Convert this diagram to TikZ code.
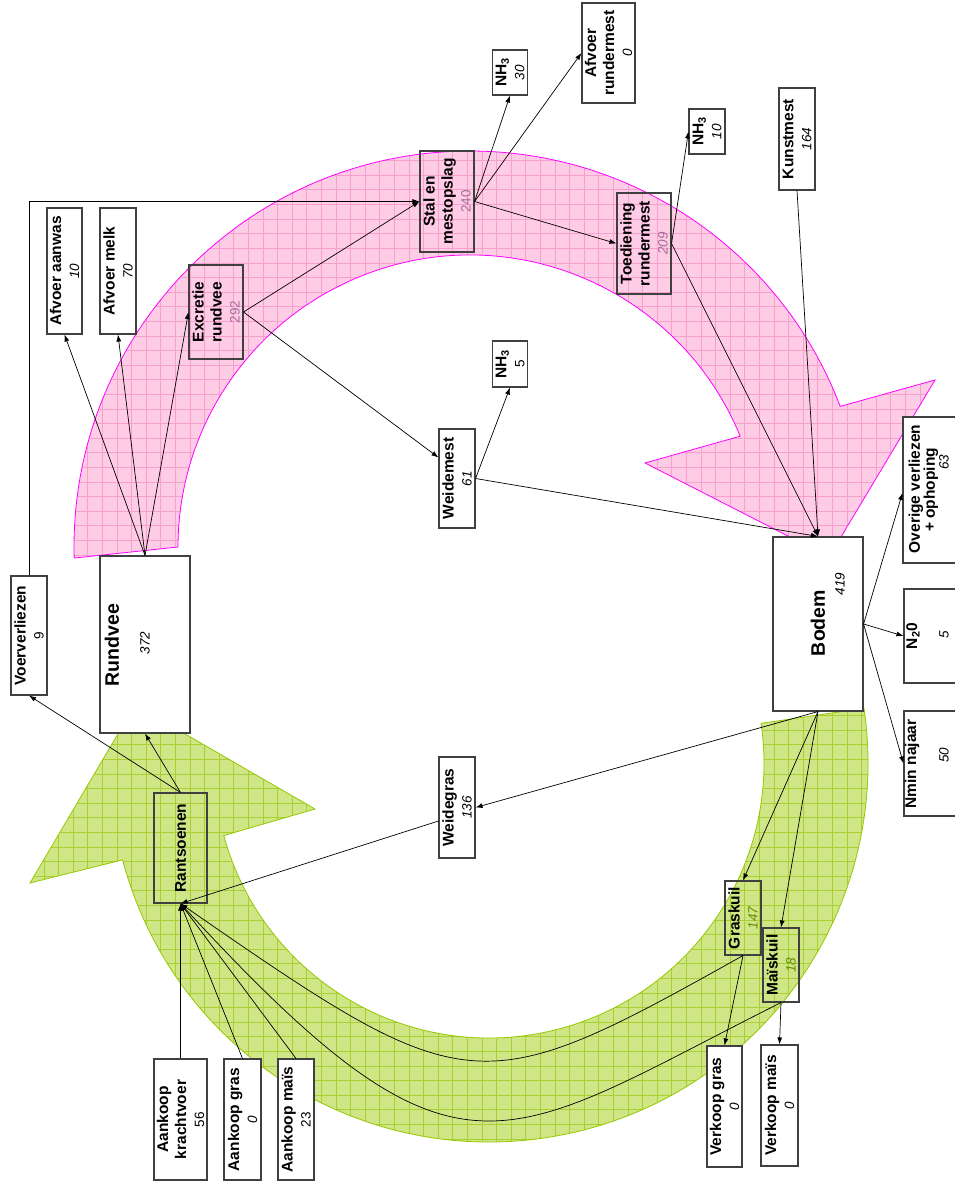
\documentclass[tikz,border=0pt]{standalone}
\usepackage{fontspec}
\setmainfont{Liberation Sans}
\usetikzlibrary{arrows.meta}

\definecolor{pinkfill}{RGB}{255,204,230}
\definecolor{pinkgrid}{RGB}{247,160,205}
\definecolor{pinkedge}{RGB}{255,0,255}
\definecolor{greenfill}{RGB}{206,230,134}
\definecolor{greengrid}{RGB}{168,208,50}
\definecolor{greenedge}{RGB}{150,200,0}
\definecolor{boxgrey}{RGB}{64,64,64}
\definecolor{mestval}{RGB}{160,110,150}
\definecolor{kuilval}{RGB}{102,140,0}

\newcommand{\nval}[1]{{\normalfont\fontsize{13.5}{16}\selectfont\itshape #1}}
\newcommand{\nup}[1]{{\normalfont\fontsize{13.5}{16}\selectfont #1}}

\begin{document}
\begin{tikzpicture}[
    x=1pt, y=-1pt,
    every node/.style={font=\fontsize{15.5}{18}\selectfont\bfseries},
    box/.style={draw=boxgrey, line width=1.1pt, rotate=90, align=center, inner sep=0pt},
    wbox/.style={box, fill=white},
    txt/.style={rotate=90, inner sep=0pt},
    bigtxt/.style={txt, font=\fontsize{19.5}{22}\selectfont\bfseries},
    arrow/.style={-{Latex[length=7pt,width=5pt]}, line width=0.7pt},
    mestband/.style={fill=pinkfill, draw=pinkedge, line width=0.8pt,
        path picture={\draw[pinkgrid, line width=0.6pt, step=14.6pt] (0,1190) grid (954,0);}},
    voerband/.style={fill=greenfill, draw=greenedge, line width=0.8pt,
        path picture={\draw[greengrid, line width=0.6pt, step=14.6pt] (0,1190) grid (954,0);}}
]
    \useasboundingbox (0,0) rectangle (954,1190);

    % Cycle arrows
    \coordinate (mc) at (470,547);
    \coordinate (vc) at (489,763);
    \filldraw[mestband] ([shift={(178.4:396)}]mc) arc[start angle=178.4, end angle=339.2, radius=396]
        -- (935,380) -- (829,557) -- (645,463)
        -- ([shift={(337.7:292)}]mc) arc[start angle=337.7, end angle=180, radius=292] -- cycle;
    \filldraw[voerband] ([shift={(-8.3:379)}]vc) arc[start angle=-8.3, end angle=165.2, radius=379]
        -- (30,883) -- (135,705) -- (315,809)
        -- ([shift={(164.7:275)}]vc) arc[start angle=164.7, end angle=-8.3, radius=275] -- cycle;

    % Dier
    \node[wbox, minimum width=177pt, minimum height=90pt] (rundvee) at (145,644.5) {};
    \node[bigtxt] (rundveeT) at (112,645) {Rundvee};
    \node[txt] (rundveeV) at (145,643) {\nval{372}};
    \node[wbox, minimum width=126pt, minimum height=35pt] (aanwas) at (64.5,271) {Afvoer aanwas\\\nval{10}};
    \node[wbox, minimum width=126pt, minimum height=36pt] (melk) at (118,271) {Afvoer melk\\\nval{70}};
    \node[wbox, minimum width=119pt, minimum height=36pt] (voerverl) at (29,635.5) {Voerverliezen\\\nup{9}};
    \node[box, minimum width=94pt, minimum height=54pt] (excretie) at (216,312) {Excretie\\rundvee\\\nup{\color{mestval}292}};

    % Mest
    \node[box, minimum width=101pt, minimum height=54pt] (stal) at (447,201.5) {Stal en\\mestopslag\\\nup{\color{mestval}240}};
    \node[wbox, minimum width=45pt, minimum height=35pt] (nhstal) at (510,72.5) {NH\textsubscript{3}\\\nval{30}};
    \node[wbox, minimum width=100pt, minimum height=53pt] (afvoermest) at (608.5,53) {Afvoer\\rundermest\\\nval{0}};
    \node[box, minimum width=101pt, minimum height=54pt] (toediening) at (644,243.5) {Toediening\\rundermest\\\nval{\color{mestval}209}};
    \node[wbox, minimum width=45pt, minimum height=36pt] (nhtoed) at (707,131.5) {NH\textsubscript{3}\\\nval{10}};
    \node[wbox, minimum width=102pt, minimum height=36pt] (kunstmest) at (797,139) {Kunstmest\\\nval{164}};
    \node[wbox, minimum width=99pt, minimum height=36pt] (weidemest) at (457,478.5) {Weidemest\\\nval{61}};
    \node[wbox, minimum width=46pt, minimum height=35pt] (nhweide) at (510,364) {NH\textsubscript{3}\\\nup{5}};

    % Bodem
    \node[wbox, minimum width=174pt, minimum height=90pt] (bodem) at (818,624) {};
    \node[bigtxt] (bodemT) at (818,623) {Bodem};
    \node[txt] (bodemV) at (840,584) {\nval{419}};
    \node[wbox, minimum width=146pt, minimum height=72pt] (overig) at (939,490) {};
    \node[txt] (overigT) at (916,489) {Overige verliezen};
    \node[txt] (overigT2) at (931,490) {+ ophoping};
    \node[txt] (overigV) at (944,462) {\nval{63}};
    \node[wbox, minimum width=94pt, minimum height=76pt] (lachgas) at (942,636) {};
    \node[txt] (lachgasT) at (913,636) {N\textsubscript{2}0};
    \node[txt] (lachgasV) at (944,635) {\nval{5}};
    \node[wbox, minimum width=105pt, minimum height=76pt] (nmin) at (942,763.5) {};
    \node[txt] (nminT) at (912,764) {Nmin najaar};
    \node[txt] (nminV) at (944,755) {\nval{50}};

    % Voer
    \node[wbox, minimum width=101pt, minimum height=36pt] (weidegras) at (457,807.5) {Weidegras\\\nval{136}};
    \node[box, minimum width=74pt, minimum height=36pt] (graskuil) at (743,918) {Graskuil\\\nval{\color{kuilval}147}};
    \node[box, minimum width=74pt, minimum height=36pt] (maiskuil) at (781,965) {Maïskuil\\\nval{\color{kuilval}18}};
    \node[wbox, minimum width=121pt, minimum height=35pt] (verkoopgras) at (724.5,1106.5) {Verkoop gras\\\nval{0}};
    \node[wbox, minimum width=121pt, minimum height=37pt] (verkoopmais) at (779.5,1105.5) {Verkoop maïs\\\nval{0}};
    \node[box, minimum width=110pt, minimum height=53pt] (rantsoen) at (180.5,848) {Rantsoenen};
    \node[wbox, minimum width=121pt, minimum height=53pt] (krachtvoer) at (180.5,1119.5) {Aankoop\\krachtvoer\\\nup{56}};
    \node[wbox, minimum width=121pt, minimum height=37pt] (aankoopgras) at (242.5,1119.5) {Aankoop gras\\\nval{0}};
    \node[wbox, minimum width=121pt, minimum height=36pt] (aankoopmais) at (296,1119.5) {Aankoop maïs\\\nup{23}};

    % Stromen
    \draw[arrow] (rundvee.east) -- (aanwas.west);
    \draw[arrow] (rundvee.east) -- (melk.west);
    \draw[arrow] (rundvee.east) -- (excretie.north);
    \draw[arrow] (excretie.south) -- (stal.north);
    \draw[arrow] (excretie.south) -- ([yshift=21pt]weidemest.north);
    \draw[arrow] (voerverl.east) |- (stal.north);
    \draw[arrow] (stal.south) -- (nhstal.west);
    \draw[arrow] (stal.south) -- (afvoermest.north);
    \draw[arrow] (stal.south) -- (toediening.north);
    \draw[arrow] (toediening.south) -- (nhtoed.north);
    \draw[arrow] (toediening.south) -- (bodem.east);
    \draw[arrow] (kunstmest.west) -- (bodem.east);
    \draw[arrow] (weidemest.south) -- (nhweide.west);
    \draw[arrow] (weidemest.south) -- (bodem.east);
    \draw[arrow] (bodem.south) -- ([yshift=-3pt]overig.north);
    \draw[arrow] (bodem.south) -- (lachgas.north);
    \draw[arrow] (bodem.south) -- (nmin.north);
    \draw[arrow] (bodem.west) -- (weidegras.south);
    \draw[arrow] ([yshift=-13.5pt]weidegras.north) -- (rantsoen.west);
    \draw[arrow] (bodem.west) -- (graskuil.east);
    \draw[arrow] (bodem.west) -- (maiskuil.east);
    \draw[arrow] (graskuil.west) -- (verkoopgras.east);
    \draw[arrow] (maiskuil.west) -- (verkoopmais.east);
    \draw[arrow] (graskuil.west) .. controls (477.6,1104.3) and (468.1,1102.7) .. (rantsoen.west);
    \draw[arrow] (maiskuil.west) .. controls (499,1144.1) and (460.7,1207.7) .. (rantsoen.west);
    \draw[arrow] (krachtvoer.east) -- (rantsoen.west);
    \draw[arrow] (aankoopgras.east) -- (rantsoen.west);
    \draw[arrow] (aankoopmais.east) -- (rantsoen.west);
    \draw[arrow] (rantsoen.east) -- (voerverl.west);
    \draw[arrow] (rantsoen.east) -- (rundvee.west);
\end{tikzpicture}
\end{document}
